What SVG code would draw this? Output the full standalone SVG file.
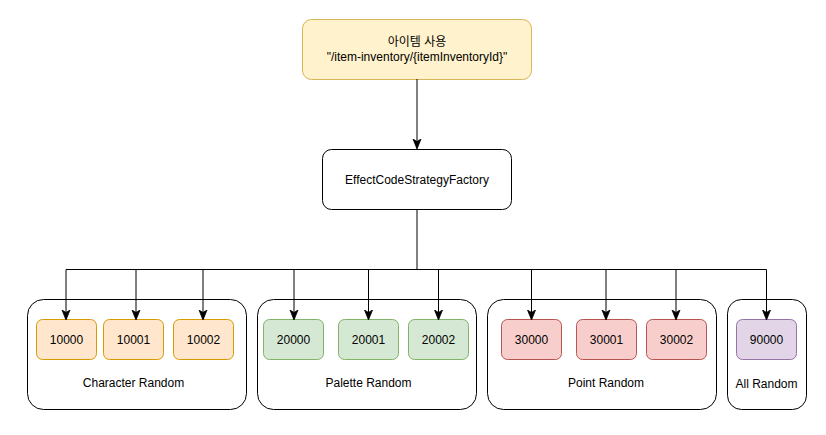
<svg xmlns="http://www.w3.org/2000/svg" width="826" height="435" viewBox="0 0 826 435">
<defs>
<marker id="arr" viewBox="0 0 10 10" refX="9" refY="5" markerWidth="10" markerHeight="10" markerUnits="userSpaceOnUse" orient="auto">
<path d="M0,1 L10,5 L0,9 L2.5,5 Z" fill="#000" stroke="#000" stroke-width="0.8"/>
</marker>
</defs>
<style>
text{font-family:"Liberation Sans",Arial,"Noto Sans CJK KR",sans-serif;font-size:12px;fill:#000;text-anchor:middle}
.grp{fill:#fff;stroke:#000;stroke-width:1}
.o{fill:#ffe6cc;stroke:#d79b00}
.g{fill:#d5e8d4;stroke:#82b366}
.r{fill:#f8cecc;stroke:#b85450}
.p{fill:#e1d5e7;stroke:#9673a6}
.c{fill:none;stroke:#000;stroke-width:1}
</style>
<rect width="826" height="435" fill="#fff"/>
<g id="use-item">
<rect x="302.5" y="19.5" width="229" height="60" rx="9" fill="#fff2cc" stroke="#d6b656"/>
<text x="417" y="46">아이템 사용</text>
<text x="417" y="61">"/item-inventory/{itemInventoryId}"</text>
</g>
<g id="factory">
<rect x="322.5" y="149.5" width="189" height="60" rx="9" fill="#fff" stroke="#000"/>
<text x="417" y="183.5">EffectCodeStrategyFactory</text>
</g>
<g id="character-random">
<rect class="grp" x="27.5" y="299.5" width="219" height="110" rx="16"/>
<text x="133.5" y="387">Character Random</text>
</g>
<g id="palette-random">
<rect class="grp" x="257.5" y="299.5" width="219" height="110" rx="16"/>
<text x="368.5" y="387">Palette Random</text>
</g>
<g id="point-random">
<rect class="grp" x="487.5" y="299.5" width="229" height="110" rx="16"/>
<text x="606" y="387">Point Random</text>
</g>
<g id="all-random">
<rect class="grp" x="727.5" y="299.5" width="79" height="110" rx="14"/>
<text x="766.5" y="387.5">All Random</text>
</g>
<g id="c10000"><rect class="o" x="36.5" y="319.5" width="60" height="40" rx="6"/><text x="66.5" y="343.5">10000</text></g>
<g id="c10001"><rect class="o" x="103.5" y="319.5" width="60" height="40" rx="6"/><text x="133.5" y="343.5">10001</text></g>
<g id="c10002"><rect class="o" x="173.5" y="319.5" width="60" height="40" rx="6"/><text x="203.5" y="343.5">10002</text></g>
<g id="c20000"><rect class="g" x="263.5" y="319.5" width="60" height="40" rx="6"/><text x="293.5" y="343.5">20000</text></g>
<g id="c20001"><rect class="g" x="338.5" y="319.5" width="60" height="40" rx="6"/><text x="368.5" y="343.5">20001</text></g>
<g id="c20002"><rect class="g" x="408.5" y="319.5" width="60" height="40" rx="6"/><text x="438.5" y="343.5">20002</text></g>
<g id="c30000"><rect class="r" x="501.5" y="319.5" width="60" height="40" rx="6"/><text x="531.5" y="343.5">30000</text></g>
<g id="c30001"><rect class="r" x="576.5" y="319.5" width="60" height="40" rx="6"/><text x="606.5" y="343.5">30001</text></g>
<g id="c30002"><rect class="r" x="646.5" y="319.5" width="60" height="40" rx="6"/><text x="676.5" y="343.5">30002</text></g>
<g id="c90000"><rect class="p" x="736.5" y="319.5" width="60" height="40" rx="6"/><text x="766.5" y="343.5">90000</text></g>
<g id="connectors">
<path class="c" d="M417,79 V148" marker-end="url(#arr)"/>
<path class="c" d="M417,209 V269.5"/>
<path class="c" d="M66,269.5 H766.5"/>
<path class="c" d="M66,269.5 V319" marker-end="url(#arr)"/>
<path class="c" d="M136,269.5 V319" marker-end="url(#arr)"/>
<path class="c" d="M203,269.5 V319" marker-end="url(#arr)"/>
<path class="c" d="M294,269.5 V319" marker-end="url(#arr)"/>
<path class="c" d="M368.5,269.5 V319" marker-end="url(#arr)"/>
<path class="c" d="M438.5,269.5 V319" marker-end="url(#arr)"/>
<path class="c" d="M531.5,269.5 V319" marker-end="url(#arr)"/>
<path class="c" d="M606,269.5 V319" marker-end="url(#arr)"/>
<path class="c" d="M676,269.5 V319" marker-end="url(#arr)"/>
<path class="c" d="M766.5,269.5 V319" marker-end="url(#arr)"/>
</g>
</svg>
